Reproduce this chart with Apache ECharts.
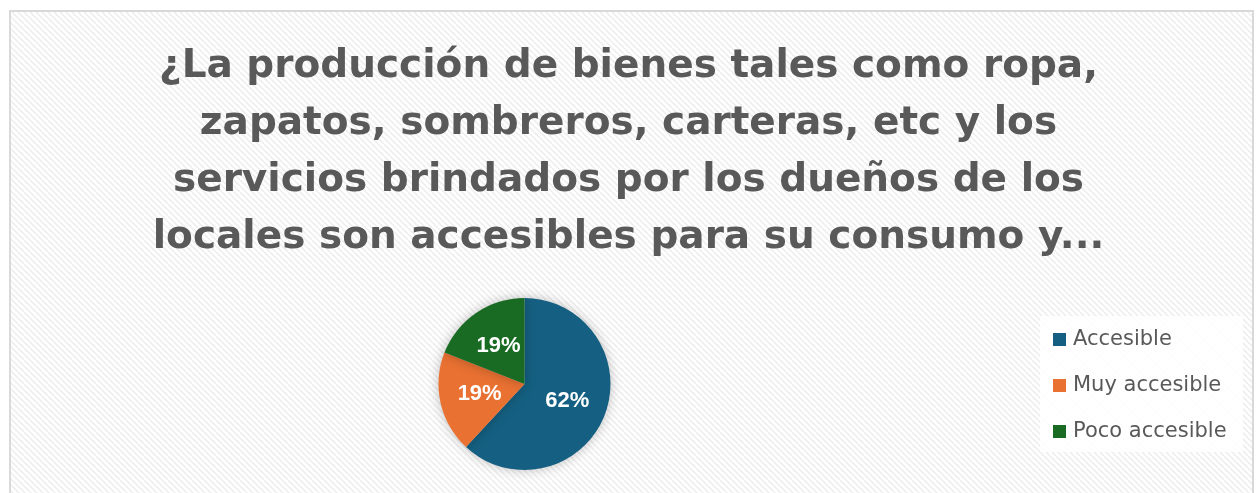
<!DOCTYPE html>
<html>
<head>
<meta charset="utf-8">
<script src="https://cdn.jsdelivr.net/npm/echarts@6/dist/echarts.min.js"></script>
<style>
  html, body { margin: 0; padding: 0; background: #fff; }
  #chart { width: 1257px; height: 493px; }
</style>
</head>
<body>
<div id="chart"></div>
<script>
// data
const titleLines = [
    '¿La producción de bienes tales como ropa,',
    'zapatos, sombreros, carteras, etc y los',
    'servicios brindados por los dueños de los',
    'locales son accesibles para su consumo y...'
];
const categories = ['Accesible', 'Muy accesible', 'Poco accesible'];
const counts = [13, 4, 4];
const colors = ['#156082', '#e97132', '#196b24'];

// diagonal hatch used as the chart area fill
function hatch() {
    const c = document.createElement('canvas');
    c.width = 6; c.height = 6;
    const ctx = c.getContext('2d');
    ctx.fillStyle = '#ffffff';
    ctx.fillRect(0, 0, 6, 6);
    ctx.strokeStyle = '#eeeeee';
    ctx.lineWidth = 1.6;
    ctx.beginPath();
    for (let k = -6; k <= 12; k += 6) {
        ctx.moveTo(k, 0);
        ctx.lineTo(k + 6, 6);
    }
    ctx.stroke();
    return c;
}

const chart = echarts.init(document.getElementById('chart'));
chart.setOption({
    backgroundColor: '#ffffff',
    color: colors,
    graphic: [
        {
            type: 'rect', z: -10, silent: true,
            shape: { x: 10, y: 11, width: 1243, height: 490 },
            style: { fill: { image: hatch(), repeat: 'repeat' }, stroke: '#d9d9d9', lineWidth: 2 }
        },
        {
            type: 'rect', z: -5, silent: true,
            shape: { x: 1040, y: 316, width: 203, height: 136 },
            style: { fill: 'rgba(255,255,255,0.85)' }
        }
    ],
    title: {
        text: titleLines.join('\n'),
        left: 'center',
        top: 33,
        textStyle: {
            fontFamily: 'DejaVu Sans',
            fontSize: 39,
            fontWeight: 'bold',
            color: '#595959',
            lineHeight: 57
        }
    },
    legend: {
        orient: 'vertical',
        left: 1048,
        top: 324,
        itemWidth: 13,
        itemHeight: 13,
        itemGap: 25,
        icon: 'rect',
        textStyle: { fontFamily: 'DejaVu Sans', fontSize: 21, color: '#595959', padding: [0, 0, 0, 2] },
        data: categories
    },
    series: [{
        type: 'pie',
        center: [524.5, 384],
        radius: 86,
        startAngle: 90,
        clockwise: true,
        animation: false,
        itemStyle: {
            shadowBlur: 12,
            shadowColor: 'rgba(0,0,0,0.25)'
        },
        label: {
            position: 'inside',
            formatter: p => Math.round(p.percent) + '%',
            color: '#ffffff',
            fontFamily: '"Liberation Sans", Arial, sans-serif',
            fontWeight: 'bold',
            fontSize: 22
        },
        labelLine: { show: false },
        emphasis: { disabled: true },
        data: categories.map((n, i) => ({ name: n, value: counts[i] }))
    }]
});
</script>
</body>
</html>
